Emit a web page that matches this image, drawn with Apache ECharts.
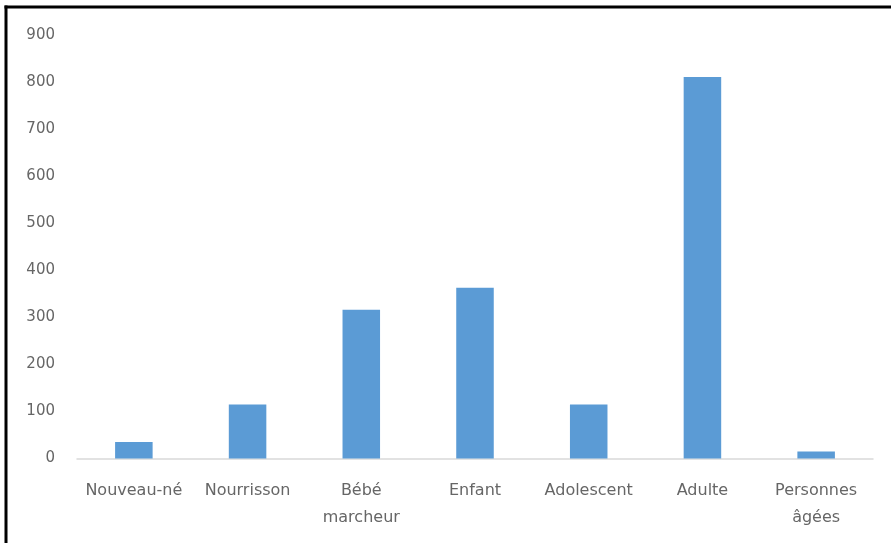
<!DOCTYPE html>
<html>
<head>
<meta charset="utf-8">
<script src="https://cdn.jsdelivr.net/npm/echarts@6/dist/echarts.min.js"></script>
<style>
  html, body { margin: 0; padding: 0; background: #fff; }
  #chart { width: 891px; height: 543px; }
</style>
</head>
<body>
<div id="chart"></div>
<script>
// Age groups and their counts
const categories = ['Nouveau-né', 'Nourrisson', 'Bébé marcheur', 'Enfant', 'Adolescent', 'Adulte', 'Personnes âgées'];
const counts = [35, 115, 316, 363, 115, 811, 15];
const yTicks = [0, 100, 200, 300, 400, 500, 600, 700, 800, 900];

const chart = echarts.init(document.getElementById('chart'), null, { renderer: 'canvas' });
const labelFont = '"DejaVu Sans", sans-serif';

chart.setOption({
  animation: false,
  backgroundColor: '#ffffff',
  grid: { left: 77, right: 18, top: 35, bottom: 84.5 },
  xAxis: {
    type: 'category',
    data: categories,
    axisLine: { show: true, lineStyle: { color: '#d9d9d9', width: 1.5 } },
    axisTick: { show: false },
    axisLabel: {
      color: '#666666',
      fontFamily: labelFont,
      fontSize: 16,
      margin: 19,
      lineHeight: 27,
      interval: 0,
      formatter: v => (v.indexOf(' ') > 0 ? v.replace(' ', '\n') : v)
    }
  },
  yAxis: {
    type: 'value',
    min: yTicks[0],
    max: yTicks[yTicks.length - 1],
    interval: 100,
    axisLine: { show: false },
    axisTick: { show: false },
    splitLine: { show: false },
    axisLabel: {
      color: '#666666',
      fontFamily: labelFont,
      fontSize: 15,
      margin: 22,
      padding: [4, 0, 0, 0]
    }
  },
  series: [{
    type: 'bar',
    data: counts,
    barWidth: '33%',
    itemStyle: { color: '#5b9bd5' }
  }],
  graphic: [
    { type: 'line', shape: { x1: 6, y1: 5.5, x2: 6, y2: 543 }, style: { stroke: '#000', lineWidth: 3 } },
    { type: 'line', shape: { x1: 4.5, y1: 7, x2: 891, y2: 7 }, style: { stroke: '#000', lineWidth: 3 } }
  ]
});
</script>
</body>
</html>
